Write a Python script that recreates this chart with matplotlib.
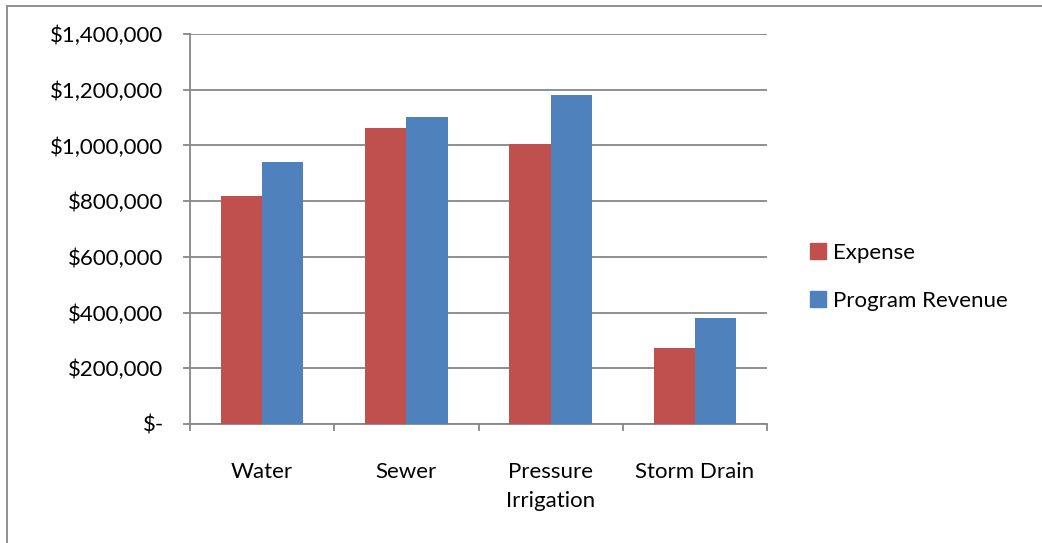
import matplotlib.pyplot as plt
import matplotlib.patches as mpatches
import numpy as np

plt.rcParams['font.family'] = ['Lato', 'DejaVu Sans']

# data
categories = ['Water', 'Sewer', 'Pressure\nIrrigation', 'Storm Drain']
expense = [818000, 1061000, 1004000, 274000]
revenue = [939000, 1103000, 1182000, 382000]
yticks = [0, 200000, 400000, 600000, 800000, 1000000, 1200000, 1400000]

red = '#C0504D'
blue = '#4F81BD'
grey = '#878787'

x = np.arange(len(categories))
width = 1 / 3.5

fig = plt.figure(figsize=(10.42, 5.43), dpi=100)
ax = fig.add_axes([190 / 1042, 119 / 543, 577 / 1042, 390 / 543])

ax.bar(x - width / 2, expense, width, color=red, label='Expense', zorder=3)
ax.bar(x + width / 2, revenue, width, color=blue, label='Program Revenue', zorder=3)

ax.set_xlim(-0.5, len(categories) - 0.5)
ax.set_ylim(0, 1400000)
ax.set_yticks(yticks)
ax.set_yticklabels(['$-' if v == 0 else f'${v:,.0f}' for v in yticks])
ax.set_xticks(np.arange(-0.5, len(categories), 1.0))
ax.set_xticklabels([])
ax.set_xticks(x, minor=True)
ax.set_xticklabels(categories, minor=True, linespacing=1.62)

ax.grid(axis='y', color=grey, linewidth=1.3, zorder=0)
for s in ['top', 'right']:
    ax.spines[s].set_visible(False)
for s in ['left', 'bottom']:
    ax.spines[s].set_color(grey)
    ax.spines[s].set_linewidth(1.3)

ax.tick_params(axis='y', direction='out', length=5, width=1.3, color=grey,
               labelsize=16, pad=14)
ax.tick_params(axis='x', which='major', direction='out', length=5, width=1.3, color=grey)
ax.tick_params(axis='x', which='minor', length=0, labelsize=16, pad=27)

leg = fig.legend(handles=[mpatches.Patch(color=red, label='Expense'),
                          mpatches.Patch(color=blue, label='Program Revenue')],
                 loc='center left', bbox_to_anchor=(810 / 1042, 1 - 277 / 543),
                 frameon=False, fontsize=16, handlelength=0.72, handleheight=0.72,
                 handletextpad=0.33, labelspacing=1.25, borderpad=0, borderaxespad=0)

# outer chart border (only top and left edges fall inside the image)
fig.patches.append(mpatches.Rectangle((7 / 1042, -0.1), 1.2, 1 - 6 / 543 + 0.1,
                                      transform=fig.transFigure, fill=False,
                                      edgecolor=grey, linewidth=1.3))

fig.savefig('out.png', dpi=100)
